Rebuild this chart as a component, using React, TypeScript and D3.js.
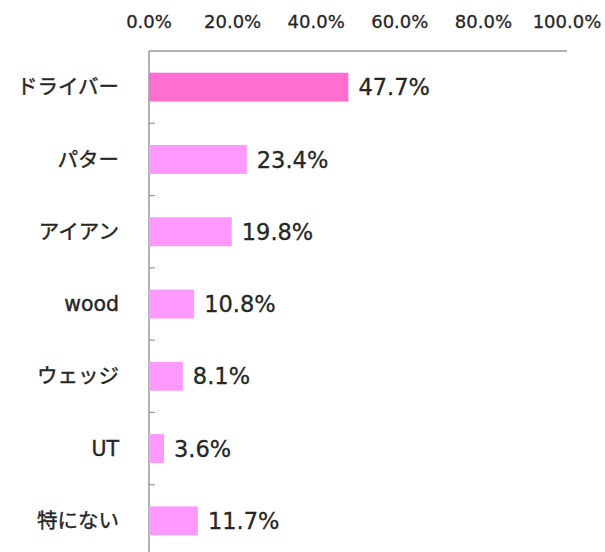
import React from "react";
import * as d3 from "d3";

const categories = ["ドライバー", "パター", "アイアン", "wood", "ウェッジ", "UT", "特にない"];
const values = [47.7, 23.4, 19.8, 10.8, 8.1, 3.6, 11.7];
const xTicks = [0, 20, 40, 60, 80, 100];

const W = 605;
const H = 552;

export default function App() {
  const x = d3.scaleLinear().domain([0, 100]).range([149, 567]);
  const y = d3.scaleBand<string>().domain(categories).range([51, 557]).paddingInner(0.6).paddingOuter(0.3);
  const step = y.step();
  const font = "'DejaVu Sans', 'Noto Sans CJK JP', sans-serif";
  const ink = "#262626";
  return (
    <svg width={W} height={H} style={{ position: "absolute", left: 0, top: 0, background: "#fff" }}>
      <line x1={x(0)} x2={x(100)} y1={51} y2={51} stroke="#999" strokeWidth={1.5} />
      <line x1={x(0)} x2={x(0)} y1={51} y2={H} stroke="#999" strokeWidth={1.5} />
      {xTicks.map((t) => (
        <text key={t} x={x(t)} y={28} textAnchor="middle" fontSize={18} fill={ink} stroke={ink} strokeWidth={0.3} fontFamily={font}>
          {d3.format(".1f")(t) + "%"}
        </text>
      ))}
      {categories.slice(1).map((c) => {
        const ty = (y(c) ?? 0) - (step - y.bandwidth()) / 2;
        return <line key={c} x1={x(0)} x2={x(0) + 6} y1={ty} y2={ty} stroke="#999" strokeWidth={1.2} />;
      })}
      {categories.map((c, i) => {
        const by = y(c) ?? 0;
        const cy = by + y.bandwidth() / 2;
        return (
          <g key={c}>
            <rect x={x(0)} y={by} width={x(values[i]) - x(0)} height={y.bandwidth()} fill={i === 0 ? "#FF6FCF" : "#FF99FF"} />
            <text x={119} y={cy} dy="0.35em" textAnchor="end" fontSize={20.5} fill={ink} stroke={ink} strokeWidth={0.4} fontFamily={font}>
              {c}
            </text>
            <text x={x(values[i]) + 10} y={cy} dy="0.36em" fontSize={22.5} fill={ink} stroke={ink} strokeWidth={0.3} fontFamily={font}>
              {d3.format(".1f")(values[i]) + "%"}
            </text>
          </g>
        );
      })}
    </svg>
  );
}
